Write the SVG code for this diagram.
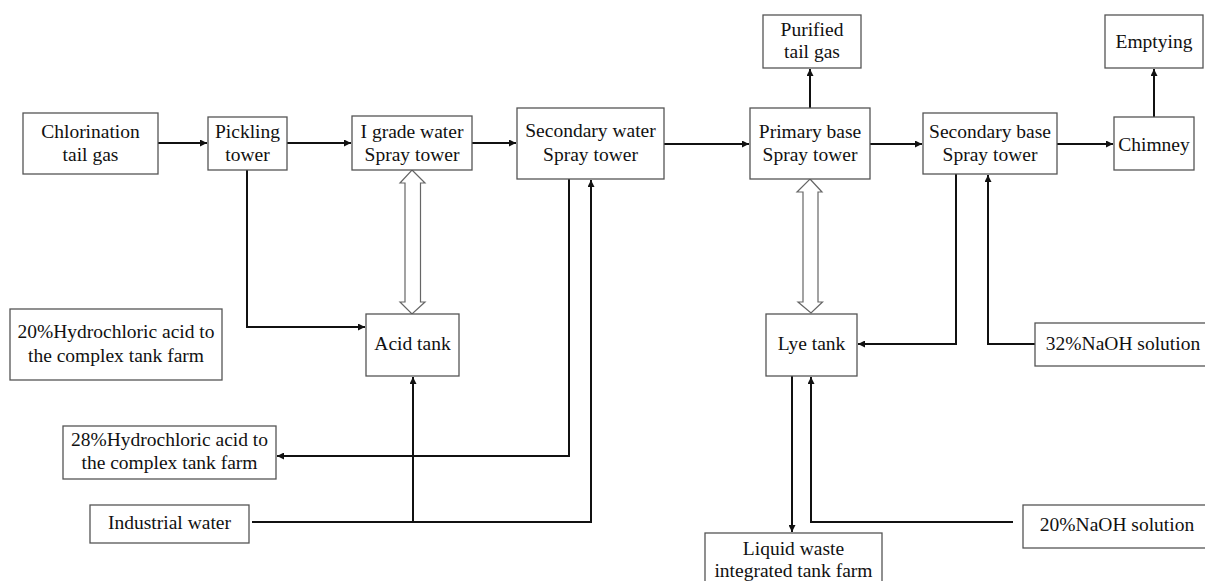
<svg xmlns="http://www.w3.org/2000/svg" width="1205" height="581" viewBox="0 0 1205 581">
<style>
.b{fill:#fff;stroke:#555;stroke-width:1.3}
.t{font-family:'Liberation Serif','Times New Roman','DejaVu Serif',serif;font-size:19.5px;fill:#111;text-anchor:middle}
.c{fill:none;stroke:#111;stroke-width:2}
.h{fill:#fff;stroke:#666;stroke-width:1.2}
</style>
<defs>
<marker id="a" viewBox="0 0 10 10" refX="10" refY="5" markerWidth="9" markerHeight="7" markerUnits="userSpaceOnUse" orient="auto">
<path d="M0,0L10,5L0,10z" fill="#111"/>
</marker>
</defs>
<rect width="1205" height="581" fill="#fff"/>
<g id="connectors">
<path class="c" d="M158,143H207" marker-end="url(#a)"/>
<path class="c" d="M287,143H351" marker-end="url(#a)"/>
<path class="c" d="M472,143H516" marker-end="url(#a)"/>
<path class="c" d="M664,144H749" marker-end="url(#a)"/>
<path class="c" d="M870,144H922" marker-end="url(#a)"/>
<path class="c" d="M1057,144H1113" marker-end="url(#a)"/>
<path class="c" d="M810,108V69" marker-end="url(#a)"/>
<path class="c" d="M1154,117V69" marker-end="url(#a)"/>
<path class="c" d="M247,170V327H365" marker-end="url(#a)"/>
<path class="c" d="M569,179V456H277" marker-end="url(#a)"/>
<path class="c" d="M252,522H591V180" marker-end="url(#a)"/>
<path class="c" d="M413,522V377" marker-end="url(#a)"/>
<path class="c" d="M956,174V344H858" marker-end="url(#a)"/>
<path class="c" d="M1035,344H988V175" marker-end="url(#a)"/>
<path class="c" d="M792,376V532" marker-end="url(#a)"/>
<path class="c" d="M1013,522H811V377" marker-end="url(#a)"/>
<path class="h" d="M412,170L425,183H420.5V302H425L412,314L400,302H405V183H400z"/>
<path class="h" d="M810,179L822,192H818V302H822.5L811,313L798,302H803V192H797z"/>
</g>
<g id="chlorination"><rect class="b" x="23" y="113" width="135" height="61"/><text class="t" x="90.5" y="138">Chlorination</text><text class="t" x="90.5" y="161">tail gas</text></g>
<g id="pickling"><rect class="b" x="208" y="117" width="79" height="53"/><text class="t" x="247.5" y="138">Pickling</text><text class="t" x="247.5" y="161">tower</text></g>
<g id="igrade"><rect class="b" x="352" y="116" width="120" height="54"/><text class="t" x="412" y="138">I grade water</text><text class="t" x="412" y="161">Spray tower</text></g>
<g id="secwater"><rect class="b" x="517" y="108" width="147" height="71"/><text class="t" x="590.5" y="137">Secondary water</text><text class="t" x="590.5" y="161">Spray tower</text></g>
<g id="purified"><rect class="b" x="763" y="15" width="98" height="53"/><text class="t" x="812" y="36">Purified</text><text class="t" x="812" y="58">tail gas</text></g>
<g id="primbase"><rect class="b" x="750" y="108" width="120" height="71"/><text class="t" x="810" y="138">Primary base</text><text class="t" x="810" y="161">Spray tower</text></g>
<g id="secbase"><rect class="b" x="923" y="113" width="134" height="61"/><text class="t" x="990" y="138">Secondary base</text><text class="t" x="990" y="161">Spray tower</text></g>
<g id="chimney"><rect class="b" x="1114" y="117" width="80" height="53"/><text class="t" x="1154" y="151">Chimney</text></g>
<g id="emptying"><rect class="b" x="1105" y="15" width="98" height="53"/><text class="t" x="1154" y="48">Emptying</text></g>
<g id="hcl20"><rect class="b" x="10" y="309" width="212" height="71"/><text class="t" x="116" y="338">20%Hydrochloric acid to</text><text class="t" x="116" y="362">the complex tank farm</text></g>
<g id="acidtank"><rect class="b" x="366" y="314" width="93" height="62"/><text class="t" x="412.5" y="350">Acid tank</text></g>
<g id="hcl28"><rect class="b" x="63" y="426" width="213" height="53"/><text class="t" x="169.5" y="446">28%Hydrochloric acid to</text><text class="t" x="169.5" y="469">the complex tank farm</text></g>
<g id="indwater"><rect class="b" x="90" y="505" width="159" height="38"/><text class="t" x="169.5" y="529">Industrial water</text></g>
<g id="lyetank"><rect class="b" x="766" y="314" width="91" height="62"/><text class="t" x="811.5" y="350">Lye tank</text></g>
<g id="naoh32"><rect class="b" x="1035" y="323" width="180" height="43"/><text class="t" x="1123" y="350">32%NaOH solution</text></g>
<g id="naoh20"><rect class="b" x="1023" y="505" width="190" height="43"/><text class="t" x="1117" y="531">20%NaOH solution</text></g>
<g id="liquidwaste"><rect class="b" x="705" y="533" width="177" height="60"/><text class="t" x="793.5" y="555">Liquid waste</text><text class="t" x="793.5" y="577">integrated tank farm</text></g>
</svg>
